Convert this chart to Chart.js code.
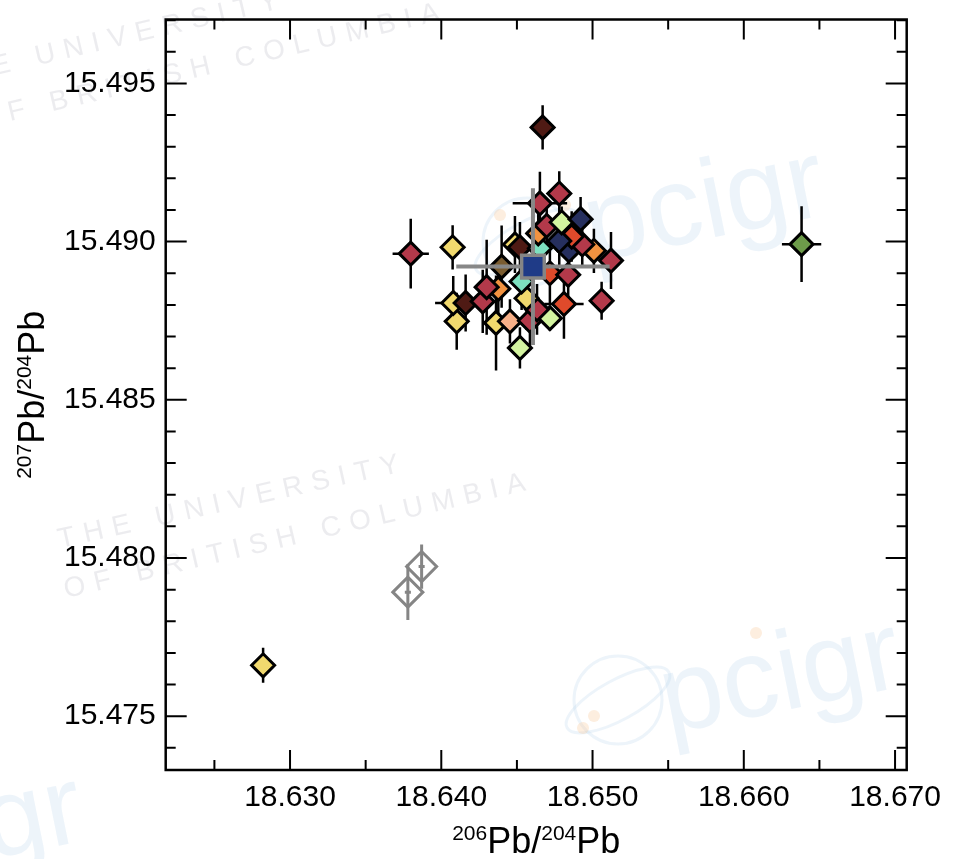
<!DOCTYPE html>
<html>
<head>
<meta charset="utf-8">
<script src="https://cdn.jsdelivr.net/npm/chart.js@4"></script>
<style>
  html, body { margin: 0; padding: 0; background: #fff; }
  #wrap { width: 955px; height: 859px; position: relative; }
</style>
</head>
<body>
<div id="wrap"><canvas id="chart-pb"></canvas></div>
<script>
// sample colours
const YELLOW = '#f1d96e';
const RED = '#b3394a';
const DARKBROWN = '#4f1a14';
const NAVY = '#262f5e';
const LIGHTGREEN = '#d3f4a0';
const ORANGE = '#f19240';
const REDORANGE = '#df4a2b';
const TEAL = '#7de0c0';
const OLIVE = '#7a5c30';
const PEACH = '#f8b088';
const GREEN = '#6d9b4a';

// measured samples
const pb206 = [18.62822, 18.63798, 18.66382, 18.64670, 18.64075, 18.64520, 18.64102, 18.64362, 18.64454, 18.64586,
  18.64718, 18.64633, 18.64079, 18.64161, 18.64274, 18.64811, 18.65060, 18.64564, 18.64377, 18.64300,
  18.64531, 18.64718, 18.64839, 18.64399, 18.64487, 18.64520, 18.64652, 18.65122, 18.65009, 18.64844,
  18.64932, 18.64862, 18.64780, 18.64641, 18.64697, 18.64796, 18.64921, 18.64652, 18.64780];
const pb207 = [15.47661, 15.48962, 15.48992, 15.49361, 15.48982, 15.48664, 15.48748, 15.48743, 15.48748, 15.48750,
  15.48758, 15.48786, 15.48806, 15.48806, 15.48811, 15.48803, 15.48813, 15.48821, 15.48851, 15.48856,
  15.48874, 15.48900, 15.48895, 15.48921, 15.48991, 15.48982, 15.48979, 15.48940, 15.48971, 15.48972,
  15.48991, 15.49016, 15.49002, 15.49026, 15.49050, 15.49061, 15.49071, 15.49121, 15.49152];
const err206 = [0.0003, 0.0012, 0.0013, 0.0004, 0.0004, 0.0003, 0.0008, 0.0005, 0.0004, 0.0004,
  0.0004, 0.0004, 0.0012, 0.0005, 0.0004, 0.0013, 0.0003, 0.0004, 0.0004, 0.0004,
  0.0004, 0.0004, 0.0004, 0.0005, 0.0004, 0.0005, 0.0004, 0.0004, 0.0004, 0.0005,
  0.0004, 0.0005, 0.0005, 0.0005, 0.0006, 0.0003, 0.0004, 0.0018, 0.0004];
const err207 = [0.00055, 0.0011, 0.0012, 0.0007, 0.0007, 0.00065, 0.0009, 0.0015, 0.0007, 0.0008,
  0.0004, 0.0008, 0.00085, 0.0009, 0.0010, 0.0011, 0.0006, 0.0010, 0.0008, 0.0015,
  0.0009, 0.0010, 0.0010, 0.0013, 0.0009, 0.0008, 0.0008, 0.0009, 0.0007, 0.0008,
  0.0007, 0.0008, 0.0008, 0.0009, 0.0008, 0.0005, 0.0007, 0.0010, 0.0007];
const sampleColors = [YELLOW, RED, GREEN, DARKBROWN, YELLOW, LIGHTGREEN, YELLOW, YELLOW, PEACH, RED,
  LIGHTGREEN, RED, YELLOW, DARKBROWN, RED, REDORANGE, RED, YELLOW, ORANGE, RED,
  TEAL, REDORANGE, RED, OLIVE, YELLOW, DARKBROWN, TEAL, RED, ORANGE, NAVY,
  RED, REDORANGE, NAVY, ORANGE, RED, LIGHTGREEN, NAVY, RED, RED];

// excluded samples (open grey)
const excl206 = [18.63779, 18.63870];
const excl207 = [15.47892, 15.47973];
const exclErr206 = [0.0002, 0.0002];
const exclErr207 = [0.00088, 0.0007];

// mean
const mean206 = [18.64606];
const mean207 = [15.48921];
const meanErr206 = [0.00507];
const meanErr207 = [0.00248];

// axes
const X_MIN = 18.62178, X_MAX = 18.67077;
const Y_MIN = 15.47330, Y_MAX = 15.49702;
const xMajorTicks = [18.630, 18.640, 18.650, 18.660, 18.670];
const xMinorTicks = [18.625, 18.635, 18.645, 18.655, 18.665];
const yMajorTicks = [15.475, 15.480, 15.485, 15.490, 15.495];
const yMinorTicks = [15.474, 15.476, 15.477, 15.478, 15.479, 15.481, 15.482, 15.483, 15.484,
  15.486, 15.487, 15.488, 15.489, 15.491, 15.492, 15.493, 15.494, 15.496, 15.497];

const FONT = "'Liberation Sans', Arial, Helvetica, sans-serif";

const toPoints = (xs, ys) => xs.map((x, i) => ({ x: x, y: ys[i] }));

// no label overflow padding: the layout padding already leaves room
const noScalePadding = (scale) => {
  scale.paddingTop = 0; scale.paddingBottom = 0;
  scale.paddingLeft = 0; scale.paddingRight = 0;
};

// error bars, drawn just before each dataset's markers
const errorBars = {
  id: 'errorBars',
  beforeDatasetDraw(chart, args) {
    const ds = chart.data.datasets[args.index];
    if (!ds.errX) return;
    const { ctx, scales: { x, y } } = chart;
    ctx.save();
    ctx.strokeStyle = ds.errColor;
    ctx.lineWidth = ds.errWidth;
    ctx.lineCap = 'butt';
    ds.data.forEach((p, i) => {
      const cx = x.getPixelForValue(p.x);
      const cy = y.getPixelForValue(p.y);
      ctx.beginPath();
      ctx.moveTo(x.getPixelForValue(p.x - ds.errX[i]), cy);
      ctx.lineTo(x.getPixelForValue(p.x + ds.errX[i]), cy);
      ctx.moveTo(cx, y.getPixelForValue(p.y - ds.errY[i]));
      ctx.lineTo(cx, y.getPixelForValue(p.y + ds.errY[i]));
      ctx.stroke();
    });
    ctx.restore();
  }
};

// frame with inward ticks on all four sides + axis titles
const frameTicks = {
  id: 'frameTicks',
  afterDraw(chart) {
    const { ctx, chartArea: a, scales: { x, y } } = chart;
    ctx.save();
    ctx.strokeStyle = '#000';
    ctx.lineWidth = 2.5;
    ctx.strokeRect(a.left, a.top, a.right - a.left, a.bottom - a.top);
    ctx.lineWidth = 2;
    ctx.beginPath();
    const tickX = (vals, len) => vals.forEach(v => {
      const px = x.getPixelForValue(v);
      ctx.moveTo(px, a.bottom); ctx.lineTo(px, a.bottom - len);
      ctx.moveTo(px, a.top); ctx.lineTo(px, a.top + len);
    });
    const tickY = (vals, len) => vals.forEach(v => {
      const py = y.getPixelForValue(v);
      ctx.moveTo(a.left, py); ctx.lineTo(a.left + len, py);
      ctx.moveTo(a.right, py); ctx.lineTo(a.right - len, py);
    });
    tickX(xMajorTicks, 20);
    tickX(xMinorTicks, 10);
    tickY(yMajorTicks, 21);
    tickY(yMinorTicks, 10);
    ctx.stroke();

    // axis titles with superscripts
    const drawTitle = (parts, cx, cy, rot) => {
      ctx.save();
      ctx.translate(cx, cy);
      ctx.rotate(rot);
      ctx.fillStyle = '#000';
      ctx.textBaseline = 'alphabetic';
      ctx.textAlign = 'left';
      let total = 0;
      parts.forEach(p => { ctx.font = p.size + 'px ' + FONT; total += ctx.measureText(p.t).width; });
      let pos = -total / 2;
      parts.forEach(p => {
        ctx.font = p.size + 'px ' + FONT;
        ctx.fillText(p.t, pos, p.rise);
        pos += ctx.measureText(p.t).width;
      });
      ctx.restore();
    };
    const title = (a1, a2) => [
      { t: a1, size: 21, rise: -13 }, { t: 'Pb/', size: 36, rise: 0 },
      { t: a2, size: 21, rise: -13 }, { t: 'Pb', size: 36, rise: 0 }
    ];
    drawTitle(title('206', '204'), (a.left + a.right) / 2, 853, 0);
    drawTitle(title('207', '204'), 44, (a.top + a.bottom) / 2, -Math.PI / 2);
    ctx.restore();
  }
};

// faint background watermarks
const watermark = {
  id: 'watermark',
  beforeDraw(chart) {
    const ctx = chart.ctx;
    ctx.save();
    const words = (txt, x0, y0, ang, size, color, spacing) => {
      ctx.save();
      ctx.translate(x0, y0);
      ctx.rotate(ang);
      ctx.font = size + 'px ' + FONT;
      ctx.letterSpacing = spacing + 'px';
      ctx.fillStyle = color;
      ctx.fillText(txt, 0, 0);
      ctx.restore();
    };
    const grey = 'rgba(200,200,208,0.34)';
    const blue = 'rgba(180,208,236,0.24)';
    words('THE UNIVERSITY', -60, 88, -0.23, 28, grey, 9);
    words('OF BRITISH COLUMBIA', -20, 128, -0.23, 28, grey, 9);
    words('THE UNIVERSITY', 60, 548, -0.22, 28, grey, 9);
    words('OF BRITISH COLUMBIA', 66, 598, -0.23, 28, grey, 9);
    words('pcigr', 592, 262, -0.2, 112, blue, 0);
    words('pcigr', 668, 734, -0.2, 112, blue, 0);
    words('pcigr', -150, 888, -0.2, 112, blue, 0);
    ctx.strokeStyle = blue;
    ctx.lineWidth = 3;
    [[527, 242], [618, 700]].forEach(([cx, cy]) => {
      ctx.beginPath(); ctx.arc(cx, cy, 44, 0, Math.PI * 2); ctx.stroke();
      ctx.beginPath(); ctx.ellipse(cx, cy, 58, 20, -0.5, 0, Math.PI * 2); ctx.stroke();
    });
    ctx.fillStyle = 'rgba(248,200,150,0.3)';
    [[565, 205], [500, 215], [756, 633], [594, 716], [583, 728]].forEach(([cx, cy]) => {
      ctx.beginPath(); ctx.arc(cx, cy, 6, 0, Math.PI * 2); ctx.fill();
    });
    ctx.restore();
  }
};

new Chart(document.getElementById('chart-pb'), {
  type: 'scatter',
  data: {
    datasets: [
      {
        label: 'samples',
        data: toPoints(pb206, pb207),
        errX: err206, errY: err207, errColor: '#000', errWidth: 2.5,
        pointStyle: 'rectRot',
        pointRadius: 11.5,
        pointHoverRadius: 11.5,
        pointBackgroundColor: sampleColors,
        pointBorderColor: '#000',
        pointBorderWidth: 3,
        order: 3
      },
      {
        label: 'excluded',
        data: toPoints(excl206, excl207),
        errX: exclErr206, errY: exclErr207, errColor: '#858585', errWidth: 3,
        pointStyle: 'rectRot',
        pointRadius: 15,
        pointHoverRadius: 15,
        pointBackgroundColor: 'rgba(255,255,255,0)',
        pointBorderColor: '#858585',
        pointBorderWidth: 3,
        order: 2
      },
      {
        label: 'mean',
        data: toPoints(mean206, mean207),
        errX: meanErr206, errY: meanErr207, errColor: '#878787', errWidth: 4,
        pointStyle: 'rect',
        pointRadius: 16,
        pointHoverRadius: 16,
        pointBackgroundColor: '#1f3b87',
        pointBorderColor: '#858585',
        pointBorderWidth: 3.5,
        order: 1
      }
    ]
  },
  options: {
    responsive: true,
    maintainAspectRatio: false,
    animation: false,
    layout: { padding: { left: 0, right: 48.3, top: 16.5, bottom: 0 } },
    plugins: {
      legend: { display: false },
      tooltip: { enabled: false }
    },
    scales: {
      x: {
        type: 'linear',
        min: X_MIN,
        max: X_MAX,
        grid: { display: false, drawTicks: false },
        border: { display: false },
        afterBuildTicks: (scale) => { scale.ticks = xMajorTicks.map(v => ({ value: v })); },
        afterFit: (scale) => { scale.height = 89; noScalePadding(scale); },
        ticks: {
          padding: 13,
          color: '#000',
          font: { family: FONT, size: 30, lineHeight: 1 },
          maxRotation: 0,
          callback: (v) => Number(v).toFixed(3)
        }
      },
      y: {
        type: 'linear',
        min: Y_MIN,
        max: Y_MAX,
        grid: { display: false, drawTicks: false },
        border: { display: false },
        afterBuildTicks: (scale) => { scale.ticks = yMajorTicks.map(v => ({ value: v })); },
        afterFit: (scale) => { scale.width = 165.7; noScalePadding(scale); },
        ticks: {
          padding: 10,
          color: '#000',
          font: { family: FONT, size: 30, lineHeight: 1 },
          callback: (v) => Number(v).toFixed(3)
        }
      }
    }
  },
  plugins: [watermark, errorBars, frameTicks]
});
</script>
</body>
</html>
